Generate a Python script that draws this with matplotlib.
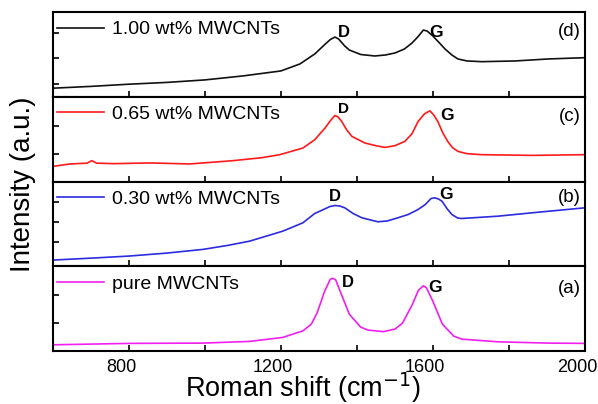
import matplotlib
matplotlib.use("Agg")
import matplotlib.pyplot as plt
import matplotlib.transforms as mtransforms
from matplotlib.ticker import FixedLocator, NullFormatter

plt.rcParams['font.family'] = ['Liberation Sans', 'DejaVu Sans']

# ---- data (intensity in arbitrary units, per panel) ----
x_d = [600, 700, 800, 900, 1000, 1100, 1200, 1250, 1289, 1316, 1330, 1342, 1352, 1368,
       1380, 1410, 1447, 1475, 1500, 1525, 1545, 1560, 1575, 1585, 1600, 1615, 1632,
       1650, 1666, 1690, 1729, 1816, 1903, 2000]
y_d = [8.7, 10.5, 12.7, 14.5, 17, 21, 26, 33, 43, 52.7, 57.5, 60, 58, 51,
       47, 42.5, 41, 42, 44, 48, 54, 60, 67, 66, 61, 55, 48,
       42, 38, 36, 35.3, 36, 38, 39.3]

x_c = [600, 645, 690, 702, 715, 760, 855, 960, 1074, 1150, 1197, 1258, 1289, 1316, 1330,
       1342, 1350, 1360, 1373, 1387, 1421, 1450, 1474, 1500, 1526, 1545, 1561, 1578,
       1592, 1602, 1613, 1626, 1639, 1652, 1666, 1690, 1729, 1861, 2000]
y_c = [15.3, 17.7, 18.5, 21, 18.5, 18, 18.7, 17.7, 21, 24, 27, 33.7, 42, 53.7, 61,
       66.3, 65, 60.3, 52, 45.3, 38.7, 36, 34.3, 36, 40.3, 48, 60.3, 68,
       71, 67, 60.3, 49, 40.3, 34, 30.3, 28, 27, 26.3, 27]

x_b = [600, 700, 800, 900, 995, 1060, 1118, 1205, 1258, 1289, 1316, 1329, 1342, 1355,
       1368, 1390, 1413, 1455, 1480, 1508, 1535, 1561, 1580, 1595, 1605, 1615, 1624,
       1637, 1650, 1665, 1676, 1771, 1861, 2000]
y_b = [6.3, 8.2, 10.3, 13.3, 17, 21, 25.3, 35.3, 43.7, 53, 57.7, 60, 61, 60.5,
       58.7, 53, 48.7, 44.7, 45.5, 48.7, 52, 57, 62, 68, 68.7, 67.5, 65.3,
       58, 52, 48.5, 48, 50.3, 53.7, 58.7]

x_a = [600, 800, 995, 1118, 1205, 1258, 1280, 1295, 1315, 1330, 1337, 1344, 1358, 1380,
       1410, 1430, 1470, 1500, 1520, 1545, 1562, 1575, 1583, 1600, 1625, 1655, 1676,
       1771, 1903, 2000]
y_a = [6.3, 7.7, 8, 9.7, 13.7, 20.3, 27, 38, 60, 72, 73, 71.5, 58, 37,
       24, 21, 19.5, 22, 28, 46, 61, 65.5, 63.5, 50, 27, 15, 12,
       9.3, 8, 7.7]

labels = ['1.00 wt% MWCNTs', '0.65 wt% MWCNTs', '0.30 wt% MWCNTs', 'pure MWCNTs']
panel_tags = ['(d)', '(c)', '(b)', '(a)']
colors = ['#111111', '#ff1a1a', '#2b2be0', '#f020f0']
series = [(x_d, y_d), (x_c, y_c), (x_b, y_b), (x_a, y_a)]

# D / G annotation positions (x in cm-1, y in panel units)
dg_pos = [((1366, 64.5), (1608, 65)),
          ((1366, 73), (1637, 66)),
          ((1342, 70), (1634, 72)),
          ((1376, 69), (1605, 64))]
d_sizes = [12, 11, 12, 12]
tag_y = [0.77, 0.765, 0.81, 0.74]
yticks = [[13, 39, 64], [28, 56], [24, 44, 65], [28, 56]]

xmajor = [800, 1200, 1600, 2000]
xminor = [1000, 1400, 1800]

fig = plt.figure(figsize=(5.98, 4.04), dpi=100)
axes = fig.subplots(4, 1, sharex=True, gridspec_kw=dict(hspace=0))
fig.subplots_adjust(left=0.0886, right=0.978, bottom=0.131, top=0.970)

for i, ax in enumerate(axes):
    xs, ys = series[i]
    ax.plot(xs, ys, color=colors[i], lw=1.2, label=labels[i])
    ax.set_xlim(600, 2000)
    ax.set_ylim(0, 85)
    ax.yaxis.set_major_locator(FixedLocator(yticks[i]))
    ax.yaxis.set_major_formatter(NullFormatter())
    ax.xaxis.set_major_locator(FixedLocator(xmajor))
    ax.xaxis.set_minor_locator(FixedLocator(xminor))
    ax.tick_params(axis='both', which='both', direction='in', length=4, width=1.2)
    ax.tick_params(axis='x', which='both', top=False, bottom=True)
    ax.tick_params(axis='x', which='major', labelsize=13, pad=6)
    for s in ax.spines.values():
        s.set_linewidth(1.5)
    ax.legend(loc='upper left', bbox_to_anchor=(0.0, 0.943), frameon=False,
              fontsize=14, handlelength=2.4, handletextpad=0.45,
              borderaxespad=0.0, borderpad=0.2)
    (dx, dy), (gx, gy) = dg_pos[i]
    ax.text(dx, dy, 'D', fontsize=d_sizes[i], fontweight='bold', ha='center', va='center')
    ax.text(gx, gy, 'G', fontsize=12.5, fontweight='bold', ha='center', va='center')
    ax.text(0.993, tag_y[i], panel_tags[i], transform=ax.transAxes,
            fontsize=13.5, ha='right', va='center')

# tick labels sit slightly left of their ticks in the reference
shift = mtransforms.ScaledTranslation(-8 / 100, 0, fig.dpi_scale_trans)
for lab in axes[-1].get_xticklabels():
    lab.set_transform(lab.get_transform() + shift)

fig.text(303 / 598, 1 - 397 / 404, 'Roman shift (cm$^{-1}$)', fontsize=19.5,
         ha='center', va='baseline')
fig.text(23 / 598, 0.545, 'Intensity (a.u.)', rotation=90, fontsize=20,
         ha='center', va='center')

fig.savefig('out.png', dpi=100)
